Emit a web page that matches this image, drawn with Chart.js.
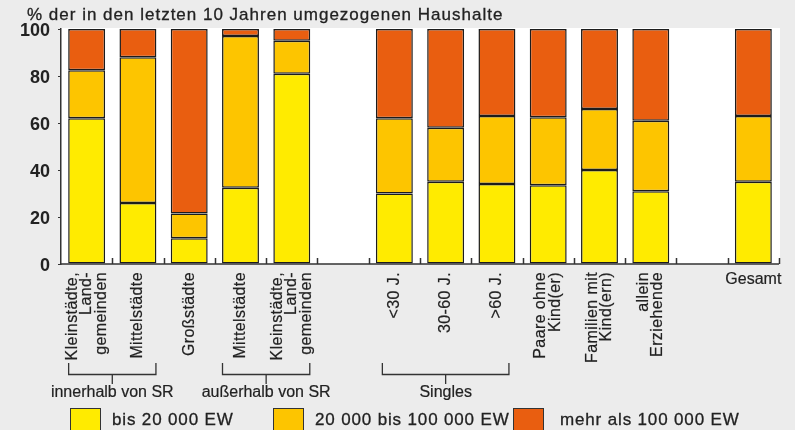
<!DOCTYPE html>
<html>
<head>
<meta charset="utf-8">
<script src="https://cdn.jsdelivr.net/npm/chart.js@4.4.1/dist/chart.umd.min.js"></script>
<style>
  html, body { margin: 0; padding: 0; background: #ececec; }
  #wrap { width: 795px; height: 430px; position: relative; }
</style>
</head>
<body>
<div id="wrap"><canvas id="chart" width="795" height="430"></canvas></div>
<script>
// categories (empty slots are gaps in the original chart)
const categories = [
  ['Kleinstädte,', 'Land-', 'gemeinden'],
  ['Mittelstädte'],
  ['Großstädte'],
  ['Mittelstädte'],
  ['Kleinstädte,', 'Land-', 'gemeinden'],
  [''],
  ['<30 J.'],
  ['30-60 J.'],
  ['>60 J.'],
  ['Paare ohne', 'Kind(er)'],
  ['Familien mit', 'Kind(ern)'],
  ['allein', 'Erziehende'],
  [''],
  ['Gesamt']
];
const horizontalLabels = ['Gesamt'];

// % of households moved in the last 10 years, by size of destination
const upTo20k       = [62,   26, 11,   32.5, 81, null, 30, 35, 34, 33.5, 40, 31, null, 35];
const from20kTo100k = [20.5, 62, 10.5, 64.5, 14, null, 32, 23, 29, 29,   26, 30, null, 28];
const over100k      = [17.5, 12, 78.5, 3,    5,  null, 38, 42, 37, 37.5, 34, 39, null, 37];

const seriesNames = ['bis 20 000 EW', '20 000 bis 100 000 EW', 'mehr als 100 000 EW'];
const seriesColors = ['#ffeb00', '#fdc500', '#e95e10'];

const yTicks = [0, 20, 40, 60, 80, 100];
const groups = [
  { label: 'innerhalb von SR', from: 0, to: 1 },
  { label: 'außerhalb von SR', from: 3, to: 4 },
  { label: 'Singles', from: 6, to: 8 }
];
const titleText = '% der in den letzten 10 Jahren umgezogenen Haushalte';

const FONT = '"Liberation Sans", Arial, sans-serif';
const INK = '#222';

// fill + thin stroke to get the slightly heavier look of the original type
function inkText(ctx, t, x, y) {
  ctx.fillText(t, x, y);
  ctx.strokeText(t, x, y);
}

const extras = {
  id: 'extras',
  beforeDraw(chart) {
    const { ctx, chartArea: a } = chart;
    ctx.save();
    ctx.fillStyle = '#ececec';
    ctx.fillRect(0, 0, chart.width, chart.height);
    ctx.fillStyle = '#fff';
    ctx.fillRect(a.left, a.top - 1, a.right - a.left + 1, a.bottom - a.top + 1);
    ctx.restore();
  },
  afterDraw(chart) {
    const { ctx, chartArea: a } = chart;
    const x = chart.scales.x;
    const slot = x.getPixelForValue(1) - x.getPixelForValue(0);
    ctx.save();

    // title
    ctx.fillStyle = INK;
    ctx.strokeStyle = INK;
    ctx.lineWidth = 0.3;
    ctx.font = '17px ' + FONT;
    ctx.letterSpacing = '1px';
    ctx.textAlign = 'left';
    ctx.textBaseline = 'alphabetic';
    inkText(ctx, titleText, 27, 20);

    // bottom axis + small inward ticks at slot boundaries
    ctx.strokeStyle = '#333';
    ctx.lineWidth = 1.5;
    ctx.beginPath();
    ctx.moveTo(a.left, a.bottom);
    ctx.lineTo(a.right, a.bottom);
    for (let i = 1; i <= categories.length; i++) {
      const bx = Math.round(x.getPixelForValue(i) - slot / 2) + 0.5;
      ctx.moveTo(bx, a.bottom);
      ctx.lineTo(bx, a.bottom - 6);
    }
    ctx.stroke();

    // category labels
    ctx.fillStyle = INK;
    ctx.strokeStyle = INK;
    ctx.lineWidth = 0.2;
    ctx.font = '16px ' + FONT;
    const lh = 14.5;
    categories.forEach((lines, i) => {
      const cx = x.getPixelForValue(i);
      if (horizontalLabels.includes(lines[0])) {
        ctx.letterSpacing = '0px';
        ctx.textAlign = 'center';
        ctx.textBaseline = 'top';
        inkText(ctx, lines[0], cx, 272);
        return;
      }
      ctx.save();
      ctx.letterSpacing = '0.4px';
      ctx.translate(cx, 272);
      ctx.rotate(-Math.PI / 2);
      ctx.textAlign = 'right';
      ctx.textBaseline = 'middle';
      lines.forEach((t, j) => inkText(ctx, t, 0, (j - (lines.length - 1) / 2) * lh));
      ctx.restore();
    });

    // group brackets
    ctx.letterSpacing = '0px';
    ctx.strokeStyle = '#333';
    ctx.lineWidth = 1.3;
    ctx.textAlign = 'center';
    ctx.textBaseline = 'alphabetic';
    groups.forEach(g => {
      const inset = g.to - g.from > 1 ? 12 : 18;
      const x0 = x.getPixelForValue(g.from) - inset;
      const x1 = x.getPixelForValue(g.to) + inset;
      const mid = (x0 + x1) / 2;
      ctx.beginPath();
      ctx.moveTo(x0, 363); ctx.lineTo(x0, 374.5); ctx.lineTo(x1, 374.5); ctx.lineTo(x1, 363);
      ctx.moveTo(mid, 374.5); ctx.lineTo(mid, 384);
      ctx.stroke();
    });
    ctx.lineWidth = 0.2;
    ctx.strokeStyle = INK;
    groups.forEach(g => {
      const mid = (x.getPixelForValue(g.from) + x.getPixelForValue(g.to)) / 2;
      inkText(ctx, g.label, mid, 397);
    });

    // legend
    const legendX = [70, 273, 513];
    const textGap = [42, 42, 47];
    ctx.font = '17px ' + FONT;
    ctx.textAlign = 'left';
    ctx.letterSpacing = '0.85px';
    chart.data.datasets.forEach((ds, i) => {
      ctx.fillStyle = ds.backgroundColor;
      ctx.fillRect(legendX[i], 408, 31, 30);
      ctx.strokeStyle = '#333';
      ctx.lineWidth = 1;
      ctx.strokeRect(legendX[i] + 0.5, 408.5, 30, 30);
      ctx.fillStyle = INK;
      ctx.strokeStyle = INK;
      ctx.lineWidth = 0.3;
      inkText(ctx, ds.label, legendX[i] + textGap[i], 425);
    });

    ctx.restore();
  }
};

const makeSet = (i, data) => ({
  label: seriesNames[i],
  data: data,
  backgroundColor: seriesColors[i],
  borderColor: '#1c1c1c',
  borderWidth: 1.5,
  borderSkipped: false,
  categoryPercentage: 1,
  barPercentage: 0.72
});

new Chart(document.getElementById('chart'), {
  type: 'bar',
  data: {
    labels: categories,
    datasets: [makeSet(0, upTo20k), makeSet(1, from20kTo100k), makeSet(2, over100k)]
  },
  options: {
    responsive: false,
    animation: false,
    layout: { padding: { left: 0, right: 16, top: 29, bottom: 166 } },
    plugins: {
      legend: { display: false },
      tooltip: { enabled: false }
    },
    scales: {
      x: {
        stacked: true,
        display: false
      },
      y: {
        stacked: true,
        min: 0,
        max: 100,
        afterFit(scale) { scale.width = 61; },
        afterBuildTicks(scale) { scale.ticks = yTicks.map(v => ({ value: v })); },
        grid: { drawOnChartArea: false, tickLength: 3, color: '#333' },
        border: { color: '#333', width: 1.5 },
        ticks: {
          padding: 8,
          labelOffset: 2,
          color: INK,
          font: { family: FONT, size: 18, weight: 'bold' }
        }
      }
    }
  },
  plugins: [extras]
});
</script>
</body>
</html>
